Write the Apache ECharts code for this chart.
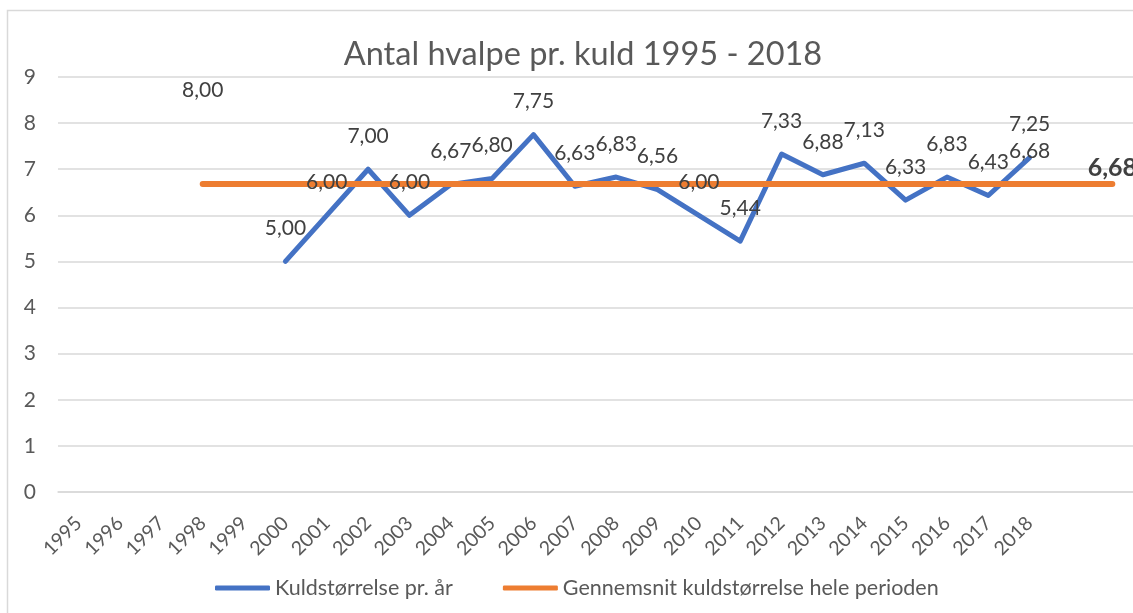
<!DOCTYPE html>
<html>
<head>
<meta charset="utf-8">
<title>Antal hvalpe pr. kuld</title>
<script src="https://cdnjs.cloudflare.com/ajax/libs/echarts/6.0.0/echarts.min.js"></script>
<style>
  html, body { margin: 0; padding: 0; background: #fff; }
  #chart { width: 1133px; height: 613px; }
</style>
</head>
<body>
<div id="chart"></div>
<script>
  // categories (two blank slots after 2018 where the average line continues)
  var years = ['1995', '1996', '1997', '1998', '1999', '2000', '2001', '2002', '2003', '2004',
    '2005', '2006', '2007', '2008', '2009', '2010', '2011', '2012', '2013', '2014',
    '2015', '2016', '2017', '2018', '', ''];

  // Kuldstørrelse pr. år
  var litterSize = [null, null, null, 8.00, null, 5.00, 6.00, 7.00, 6.00, 6.67,
    6.80, 7.75, 6.63, 6.83, 6.56, 6.00, 5.44, 7.33, 6.88, 7.13,
    6.33, 6.83, 6.43, 7.25, null, null];

  // Gennemsnit kuldstørrelse hele perioden
  var average = [null, null, null, 6.68, 6.68, 6.68, 6.68, 6.68, 6.68, 6.68,
    6.68, 6.68, 6.68, 6.68, 6.68, 6.68, 6.68, 6.68, 6.68, 6.68,
    6.68, 6.68, 6.68, 6.68, 6.68, 6.68];
  var averageLabelAt = [23];      // plain label
  var averageBoldLabelAt = 25;    // bold label at the end

  var FONT = 'Lato, "Open Sans", sans-serif';
  var BLUE = '#4472c4';
  var ORANGE = '#ed7d31';
  var GRID = '#d9d9d9';
  var NONE = 'rgba(0,0,0,0)';

  function fmt(v) {
    return v.toFixed(2).replace('.', ',');
  }

  var avgData = average.map(function (v, i) {
    if (v == null) return null;
    if (i === averageBoldLabelAt) {
      return {
        value: v,
        label: { show: true, fontWeight: 'bold', fontSize: 25, color: '#404040', distance: 3 }
      };
    }
    if (averageLabelAt.indexOf(i) >= 0) {
      return { value: v, label: { show: true } };
    }
    return v;
  });

  var chart = echarts.init(document.getElementById('chart'), null, { renderer: 'canvas' });
  chart.setOption({
    backgroundColor: '#fff',
    animation: false,
    textStyle: { fontFamily: FONT },
    title: {
      text: 'Antal hvalpe pr. kuld 1995 - 2018',
      left: 578,
      textAlign: 'center',
      top: 33,
      textStyle: { fontFamily: FONT, fontSize: 32.5, fontWeight: 'normal', color: '#595959' }
    },
    graphic: [{
      type: 'rect',
      shape: { x: 7.5, y: 10.5, width: 1300, height: 800 },
      style: { fill: 'none', stroke: GRID, lineWidth: 1.5 },
      silent: true
    }],
    legend: {
      left: 210,
      top: 572,
      icon: 'roundRect',
      itemWidth: 55,
      itemHeight: 5,
      itemGap: 50,
      textStyle: { fontFamily: FONT, fontSize: 21.5, color: '#595959' },
      data: [
        { name: 'Kuldstørrelse pr. år', itemStyle: { color: BLUE } },
        { name: 'Gennemsnit kuldstørrelse hele perioden', itemStyle: { color: ORANGE } }
      ]
    },
    grid: { left: 58, right: 0, top: 77, bottom: 121, containLabel: false },
    xAxis: {
      type: 'category',
      data: years,
      boundaryGap: true,
      axisLine: { show: true, lineStyle: { color: GRID, width: 1.5 } },
      axisTick: { show: false },
      axisLabel: {
        interval: 0,
        rotate: 45,
        margin: 28,
        fontFamily: FONT,
        fontSize: 19.5,
        color: '#595959'
      },
      splitLine: { show: false }
    },
    yAxis: {
      type: 'value',
      min: 0,
      max: 9,
      interval: 1,
      axisLine: { show: false },
      axisTick: { show: false },
      axisLabel: { margin: 22, fontFamily: FONT, fontSize: 21, color: '#595959' },
      splitLine: { lineStyle: { color: GRID, width: 1.5 } }
    },
    series: [
      {
        name: 'Kuldstørrelse pr. år',
        type: 'line',
        data: litterSize,
        connectNulls: false,
        symbol: 'circle',
        symbolSize: 1,
        showSymbol: true,
        itemStyle: { color: NONE },
        lineStyle: { color: BLUE, width: 5, cap: 'round', join: 'round' },
        label: {
          show: true,
          position: 'top',
          distance: 22,
          fontFamily: FONT,
          fontSize: 21,
          color: '#404040',
          formatter: function (p) { return fmt(p.value); }
        }
      },
      {
        name: 'Gennemsnit kuldstørrelse hele perioden',
        type: 'line',
        data: avgData,
        symbol: 'circle',
        symbolSize: 1,
        showSymbol: true,
        itemStyle: { color: NONE },
        lineStyle: { color: ORANGE, width: 6, cap: 'round' },
        label: {
          show: false,
          position: 'top',
          distance: 22,
          fontFamily: FONT,
          fontSize: 21,
          color: '#404040',
          formatter: function (p) { return fmt(p.value); }
        }
      }
    ]
  });
</script>
</body>
</html>
